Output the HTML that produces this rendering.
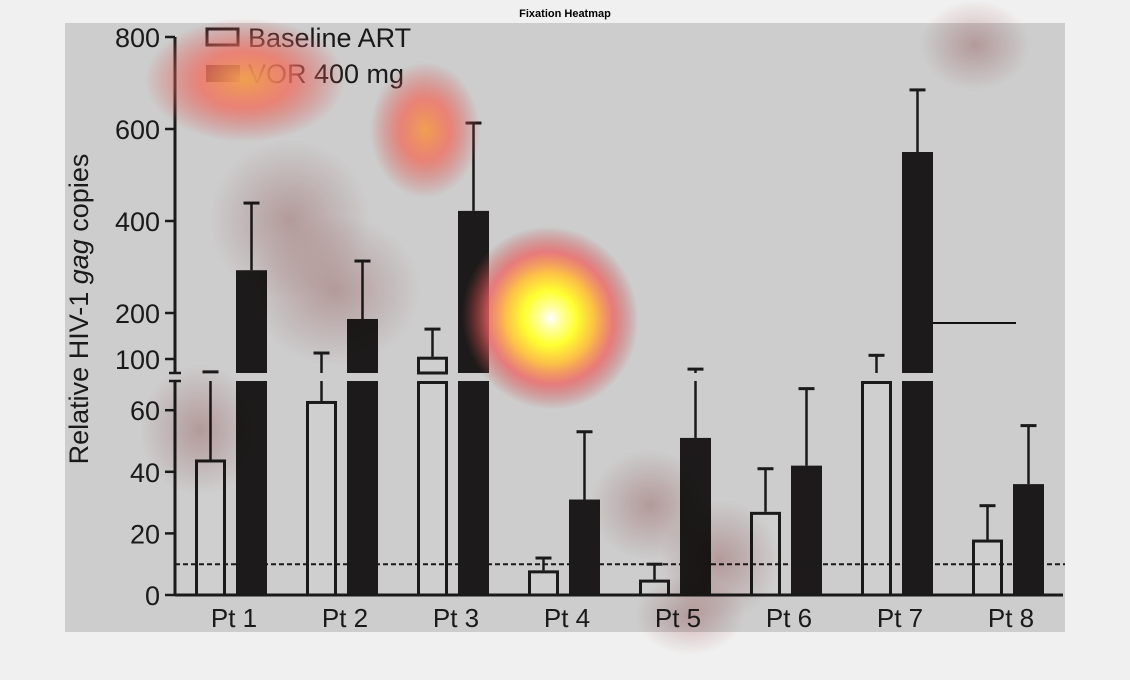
<!DOCTYPE html>
<html><head><meta charset="utf-8"><style>
html,body{margin:0;padding:0;background:#f0f0f0;width:1130px;height:680px;overflow:hidden}
text{font-family:"Liberation Sans",sans-serif}
</style></head><body>
<svg id="chart" width="1130" height="680" xmlns="http://www.w3.org/2000/svg">
<defs>
<radialGradient id="hot"><stop offset="0" stop-color="#ffffff"/><stop offset="0.12" stop-color="#ffffa0"/><stop offset="0.3" stop-color="#ffff30"/><stop offset="0.5" stop-color="#ffc040" stop-opacity="0.95"/><stop offset="0.72" stop-color="#f06060" stop-opacity="0.75"/><stop offset="1" stop-color="#c04040" stop-opacity="0"/></radialGradient>
<radialGradient id="warm"><stop offset="0" stop-color="#f0a050"/><stop offset="0.45" stop-color="#f07060" stop-opacity="0.8"/><stop offset="1" stop-color="#d05050" stop-opacity="0"/></radialGradient>
<radialGradient id="faint"><stop offset="0" stop-color="#b06060" stop-opacity="0.4"/><stop offset="1" stop-color="#b06060" stop-opacity="0"/></radialGradient>
</defs>
<text x="565" y="17" text-anchor="middle" font-size="11" font-weight="bold">Fixation Heatmap</text>
<rect x="65" y="23" width="1000" height="609" fill="#cdcdcd"/>
<g id="bars"></g>
<g id="axes"></g>
<line x1="933" y1="323" x2="1016" y2="323" stroke="#111" stroke-width="2"/>
<g>
<rect x="207" y="29" width="31" height="16" fill="#cdcdcd" stroke="#1a1a1a" stroke-width="3"/>
<text x="248" y="47" font-size="27" fill="#1a1a1a">Baseline ART</text>
<rect x="206" y="65" width="34" height="17" fill="#1a1a1a"/>
<text x="248" y="83" font-size="27" fill="#1a1a1a">VOR 400 mg</text>
</g>
<g style="mix-blend-mode:multiply">
<ellipse cx="290" cy="220" rx="80" ry="80" fill="url(#faint)"/>
<ellipse cx="335" cy="290" rx="85" ry="75" fill="url(#faint)"/>
<ellipse cx="200" cy="430" rx="60" ry="65" fill="url(#faint)"/>
<ellipse cx="650" cy="505" rx="60" ry="55" fill="url(#faint)"/>
<ellipse cx="720" cy="560" rx="60" ry="60" fill="url(#faint)"/>
<ellipse cx="690" cy="615" rx="55" ry="40" fill="url(#faint)"/>
<ellipse cx="975" cy="45" rx="55" ry="45" fill="url(#faint)"/>
</g>
<g>
<ellipse cx="245" cy="80" rx="100" ry="62" fill="url(#warm)"/>
<ellipse cx="425" cy="130" rx="55" ry="68" fill="url(#warm)"/>
<ellipse cx="550" cy="318" rx="88" ry="92" fill="url(#hot)" transform="rotate(-20 550 318)"/>
</g>
<g id="labels"></g>
<text transform="translate(88,309) rotate(-90)" text-anchor="middle" font-size="27" fill="#1a1a1a">Relative HIV-1 <tspan font-style="italic">gag</tspan> copies</text>
</svg>
<script>
const categories=["Pt 1","Pt 2","Pt 3","Pt 4","Pt 5","Pt 6","Pt 7","Pt 8"];
const baseline=[44,63,105,8,5,27,70,18];
const baselineErr=[72,113,165,12,10,41,108,29];
const vor=[293,187,422,31,51,42,550,36];
const vorErr=[439,313,613,53,78,67,685,55];
const upperTicks=[100,200,400,600,800];
const lowerTicks=[0,20,40,60];
const threshold=10;
const NS="http://www.w3.org/2000/svg";
const BREAK=70, GAP_TOP=373, GAP_BOT=381;
function y(v){return v<=BREAK?595-v*3.08:359-(v-100)*0.46;}
function x(i){return 195+i*111;}
function mk(tag,attrs,parent){const e=document.createElementNS(NS,tag);for(const k in attrs)e.setAttribute(k,attrs[k]);parent.appendChild(e);return e;}
const bars=document.getElementById('bars'),axes=document.getElementById('axes'),labels=document.getElementById('labels');
const W=31;
function segs(y1,y2){
  const out=[];
  if(y1<GAP_TOP){out.push([y1,Math.min(y2,GAP_TOP)]);}
  if(y2>GAP_BOT){out.push([Math.max(y1,GAP_BOT),y2]);}
  if(y1>=GAP_TOP&&y2<=GAP_BOT)out.push([y1,y2]);
  return out;
}
categories.forEach((c,i)=>{
  [[baseline,baselineErr,0,false],[vor,vorErr,41,true]].forEach(([vals,errs,off,filled])=>{
    const bx=x(i)+off,top=y(vals[i]),et=y(errs[i]),cx=bx+W/2;
    segs(et,top).forEach(s=>{const l=mk('line',{x1:cx,x2:cx,y1:s[0],y2:s[1],stroke:'#1a1a1a','stroke-width':2.5},bars);
      });
    const cap=mk('line',{x1:cx-8,x2:cx+8,y1:et,y2:et,stroke:'#1a1a1a','stroke-width':3},bars);
    
    segs(top,595).forEach(s=>{
      const r=filled?mk('rect',{x:bx,y:s[0],width:W,height:s[1]-s[0],fill:'#1c1a1a'},bars)
        :mk('rect',{x:bx+1.5,y:s[0]+1.5,width:W-3,height:s[1]-s[0]-1.5,fill:'#cfcfcf',stroke:'#1a1a1a','stroke-width':3},bars);
      
      
    });
  });
  const t=mk('text',{x:x(i)+39,y:627,'text-anchor':'middle','font-size':26,fill:'#1a1a1a'},labels);t.textContent=c;
  
});
const th=mk('line',{x1:175,x2:1065,y1:y(threshold),y2:y(threshold),stroke:'#1a1a1a','stroke-width':2,'stroke-dasharray':'5,3'},axes);

let a=mk('line',{x1:175,x2:175,y1:y(800),y2:GAP_TOP,stroke:'#1a1a1a','stroke-width':3},axes);

a=mk('line',{x1:175,x2:175,y1:GAP_BOT,y2:596,stroke:'#1a1a1a','stroke-width':3},axes);

[GAP_TOP,GAP_BOT].forEach(g=>{const b=mk('line',{x1:169,x2:181,y1:g,y2:g,stroke:'#1a1a1a','stroke-width':2.5},axes);
  });
a=mk('line',{x1:175,x2:1063,y1:595,y2:595,stroke:'#1a1a1a','stroke-width':3},axes);

upperTicks.concat(lowerTicks).forEach(v=>{
  const tk=mk('line',{x1:165,x2:175,y1:y(v),y2:y(v),stroke:'#1a1a1a','stroke-width':2.5},axes);
  
  const t=mk('text',{x:160,y:y(v)+10,'text-anchor':'end','font-size':27,fill:'#1a1a1a'},labels);t.textContent=v;
  
});
</script>
</body></html>
